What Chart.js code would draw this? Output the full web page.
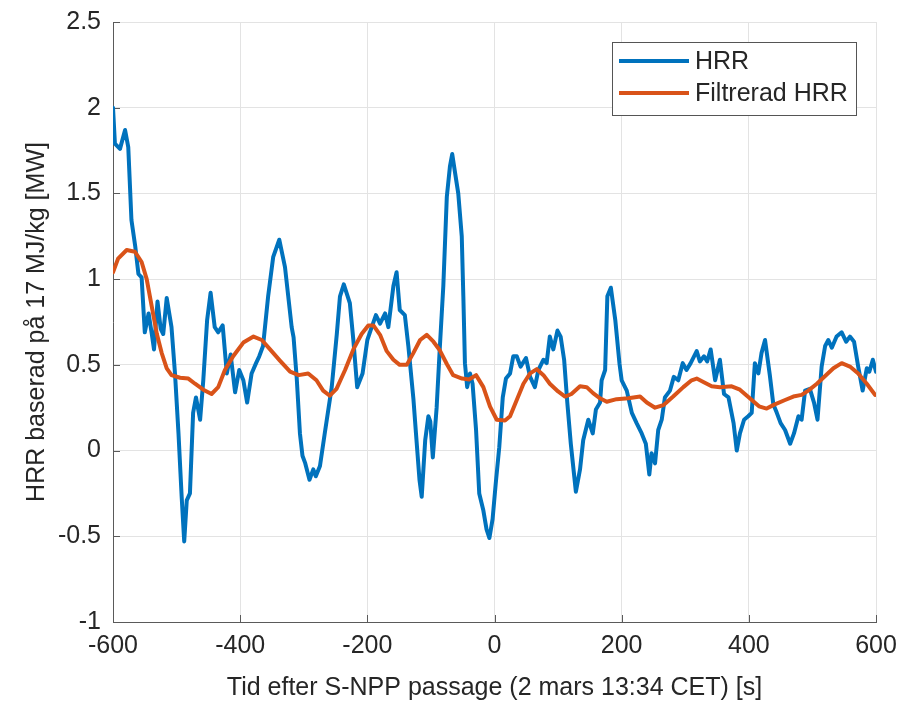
<!DOCTYPE html>
<html>
<head>
<meta charset="utf-8">
<script src="https://cdn.jsdelivr.net/npm/chart.js@4/dist/chart.umd.min.js"></script>
<style>
  body { margin: 0; background: #fff; }
  canvas { display: block; }
</style>
</head>
<body>
<canvas id="hrrChart" width="903" height="707"></canvas>
<script>
// HRR (blå)
const hrrTime = [-600, -597, -589, -581, -576, -571, -565, -560, -555, -550, -544, -539, -535.5, -530, -525, -521, -515.5, -508, -502.5, -497, -492, -488, -484, -479, -474, -469.5, -463, -458, -452, -446.5, -440, -434.5, -427.5, -421, -415, -408, -401.5, -395, -389, -382, -375, -370, -364, -356, -348, -338.5, -329.5, -319, -316, -311, -306, -302, -298, -291, -285, -281, -274.5, -267, -256, -248, -243, -237, -227.5, -222, -216, -207.5, -200, -195, -186.5, -180, -172, -167, -159, -154, -149, -141, -135.5, -127.5, -123.5, -118, -114.5, -109, -104, -101, -97, -91, -86, -80.5, -75, -70, -66.5, -62, -57, -51.5, -49, -46.5, -43, -38.5, -34.5, -29, -24, -17.5, -12.5, -8, -3, 2, 7.5, 13, 18, 24.5, 29.5, 35, 41, 49.5, 56, 63.5, 69, 77, 82, 87, 92.5, 99, 104, 109.5, 114.5, 120, 128, 134.5, 139.5, 147.5, 154.5, 159.5, 166, 168.5, 174, 177.5, 183, 190, 196.5, 200, 208, 216, 223.5, 231.5, 238, 243.5, 247, 252.5, 257.5, 263, 268, 276, 282, 289, 296, 302, 308.5, 318, 323, 329.5, 334.5, 340, 347, 354.5, 361, 368, 376, 381, 386, 392.5, 399, 404.5, 409.5, 415, 420, 425.5, 433, 438.5, 444, 450, 457, 465, 471, 478, 483, 488.5, 496, 502.5, 508, 514.5, 520, 525, 530.5, 538, 546, 553, 559, 565.5, 572, 579, 585.5, 589.5, 595, 600];
const hrrValues = [2.0, 1.79, 1.76, 1.87, 1.77, 1.345, 1.19, 1.03, 1.01, 0.69, 0.80, 0.68, 0.59, 0.87, 0.71, 0.68, 0.89, 0.72, 0.45, 0.10, -0.27, -0.53, -0.29, -0.25, 0.22, 0.31, 0.18, 0.41, 0.76, 0.92, 0.72, 0.69, 0.73, 0.45, 0.56, 0.34, 0.47, 0.41, 0.28, 0.45, 0.51, 0.55, 0.61, 0.90, 1.13, 1.23, 1.07, 0.72, 0.66, 0.42, 0.10, -0.03, -0.07, -0.17, -0.11, -0.15, -0.09, 0.10, 0.37, 0.68, 0.90, 0.97, 0.86, 0.645, 0.37, 0.45, 0.645, 0.70, 0.79, 0.74, 0.80, 0.72, 0.96, 1.04, 0.82, 0.79, 0.61, 0.30, 0.10, -0.17, -0.27, 0.06, 0.20, 0.17, -0.04, 0.25, 0.60, 0.96, 1.48, 1.66, 1.73, 1.62, 1.50, 1.25, 0.90, 0.51, 0.37, 0.45, 0.39, 0.12, -0.25, -0.35, -0.46, -0.51, -0.40, -0.19, 0.02, 0.31, 0.42, 0.45, 0.55, 0.55, 0.49, 0.54, 0.43, 0.37, 0.47, 0.53, 0.51, 0.665, 0.59, 0.70, 0.665, 0.53, 0.28, 0.04, -0.24, -0.11, 0.06, 0.18, 0.10, 0.24, 0.28, 0.41, 0.47, 0.90, 0.95, 0.76, 0.51, 0.41, 0.35, 0.22, 0.16, 0.10, 0.04, -0.14, -0.015, -0.075, 0.12, 0.18, 0.31, 0.35, 0.43, 0.41, 0.51, 0.47, 0.51, 0.58, 0.52, 0.55, 0.52, 0.59, 0.41, 0.53, 0.33, 0.31, 0.16, 0.0, 0.10, 0.18, 0.20, 0.22, 0.51, 0.45, 0.57, 0.645, 0.44, 0.27, 0.22, 0.16, 0.12, 0.04, 0.10, 0.20, 0.18, 0.35, 0.36, 0.28, 0.18, 0.49, 0.61, 0.645, 0.60, 0.665, 0.69, 0.635, 0.665, 0.635, 0.49, 0.35, 0.48, 0.46, 0.53, 0.46];

// Filtrerad HRR (orange)
const filtTime = [-600, -592, -578.5, -565.5, -555, -547, -539, -531, -523.5, -515.5, -508, -494.5, -481.5, -471, -458, -445, -434.5, -424, -411, -395, -379, -366, -353, -337.5, -321.5, -308, -293, -280, -269.5, -259, -248.5, -235, -222, -209, -198.5, -190.5, -180, -169.5, -159, -149, -138, -127.5, -117, -106.5, -96, -86, -75, -65, -51, -40, -29, -17.5, -7, 3.5, 16.5, 24.5, 35, 45.5, 56, 66.5, 77, 87, 100, 111, 121, 134.5, 145, 155, 166, 176.5, 192, 210.5, 229, 239.5, 252.5, 265.5, 281, 297, 310, 318, 328.5, 341.5, 354.5, 373, 386, 401.5, 416, 428, 440, 457, 470, 483, 493.5, 507, 520, 533, 546, 559, 572, 585.5, 598.5];
const filtValues = [1.04, 1.12, 1.17, 1.16, 1.10, 1.0, 0.84, 0.68, 0.57, 0.48, 0.44, 0.425, 0.42, 0.39, 0.355, 0.33, 0.37, 0.47, 0.55, 0.63, 0.665, 0.645, 0.59, 0.525, 0.46, 0.44, 0.45, 0.41, 0.35, 0.32, 0.36, 0.47, 0.59, 0.68, 0.73, 0.73, 0.675, 0.58, 0.53, 0.50, 0.50, 0.57, 0.645, 0.675, 0.635, 0.585, 0.505, 0.44, 0.42, 0.415, 0.44, 0.37, 0.256, 0.18, 0.175, 0.20, 0.295, 0.39, 0.45, 0.475, 0.44, 0.39, 0.345, 0.315, 0.33, 0.375, 0.37, 0.335, 0.305, 0.285, 0.30, 0.305, 0.315, 0.28, 0.25, 0.265, 0.315, 0.37, 0.41, 0.42, 0.40, 0.375, 0.37, 0.375, 0.355, 0.305, 0.258, 0.245, 0.268, 0.295, 0.315, 0.325, 0.35, 0.39, 0.435, 0.48, 0.51, 0.49, 0.45, 0.39, 0.325];

const xTicks = [-600, -400, -200, 0, 200, 400, 600];
const yTicks = [2.5, 2, 1.5, 1, 0.5, 0, -0.5, -1];
const yTickLabels = ['2.5', '2', '1.5', '1', '0.5', '0', '-0.5', '-1'];
const seriesNames = ['HRR', 'Filtrerad HRR'];

const blue = '#0072BD';
const orange = '#D95319';
const textColor = '#262626';
const fontFamily = '"Liberation Sans", Arial, sans-serif';

const hrrPoints = hrrTime.map((t, i) => ({ x: t, y: hrrValues[i] }));
const filtPoints = filtTime.map((t, i) => ({ x: t, y: filtValues[i] }));

// inåtriktade tickmarkeringar (som i MATLAB)
const innerTicks = {
    id: 'innerTicks',
    beforeDatasetsDraw(chart) {
        const { ctx, chartArea, scales } = chart;
        ctx.save();
        ctx.strokeStyle = '#5a5a5a';
        ctx.lineWidth = 1;
        ctx.beginPath();
        xTicks.forEach(v => {
            const px = Math.round(scales.x.getPixelForValue(v)) + 0.5;
            ctx.moveTo(px, chartArea.bottom);
            ctx.lineTo(px, chartArea.bottom - 7);
        });
        yTicks.forEach(v => {
            const py = Math.round(scales.y.getPixelForValue(v)) + 0.5;
            ctx.moveTo(chartArea.left, py);
            ctx.lineTo(chartArea.left + 7, py);
        });
        ctx.stroke();
        ctx.restore();
    }
};

// legend-ruta uppe till höger
const boxLegend = {
    id: 'boxLegend',
    afterDatasetsDraw(chart) {
        const { ctx, chartArea } = chart;
        const right = chartArea.right - 20;
        const left = right - 244;
        const top = chartArea.top + 20;
        const h = 73;
        ctx.save();
        ctx.fillStyle = '#fff';
        ctx.fillRect(left, top, right - left, h);
        ctx.strokeStyle = '#555';
        ctx.lineWidth = 1;
        ctx.strokeRect(left + 0.5, top + 0.5, right - left, h);
        const colors = [blue, orange];
        ctx.font = '25px ' + fontFamily;
        ctx.textBaseline = 'middle';
        ctx.fillStyle = textColor;
        seriesNames.forEach((name, i) => {
            const y = top + 19 + i * 32;
            ctx.strokeStyle = colors[i];
            ctx.lineWidth = 4;
            ctx.beginPath();
            ctx.moveTo(left + 7, y);
            ctx.lineTo(left + 77, y);
            ctx.stroke();
            ctx.fillText(name, left + 83, y + 1);
        });
        ctx.restore();
    }
};

const ctx = document.getElementById('hrrChart').getContext('2d');
new Chart(ctx, {
    type: 'line',
    data: {
        datasets: [{
            label: seriesNames[0],
            data: hrrPoints,
            borderColor: blue,
            borderWidth: 4,
            pointRadius: 0,
            tension: 0,
            borderJoinStyle: 'round',
            borderCapStyle: 'round',
            order: 1
        }, {
            label: seriesNames[1],
            data: filtPoints,
            borderColor: orange,
            borderWidth: 4,
            pointRadius: 0,
            tension: 0,
            borderJoinStyle: 'round',
            borderCapStyle: 'round',
            order: 0
        }]
    },
    options: {
        responsive: false,
        animation: false,
        layout: { padding: { left: 0, right: 27, top: 22, bottom: 0 } },
        plugins: {
            legend: { display: false },
            tooltip: { enabled: false }
        },
        scales: {
            x: {
                type: 'linear',
                min: -600,
                max: 600,
                afterBuildTicks: s => { s.ticks = xTicks.map(v => ({ value: v })); },
                afterFit: s => { s.height = 85; s.paddingLeft = 0; s.paddingRight = 0; },
                grid: { color: '#e3e3e3', drawTicks: false },
                border: { color: '#5a5a5a', width: 1 },
                ticks: {
                    padding: 9,
                    color: textColor,
                    font: { size: 25, family: fontFamily },
                    maxRotation: 0,
                    callback: v => String(v)
                },
                title: {
                    display: true,
                    text: 'Tid efter S-NPP passage (2 mars 13:34 CET) [s]',
                    color: textColor,
                    font: { size: 25, family: fontFamily },
                    padding: { top: 0, bottom: 4 }
                }
            },
            y: {
                min: -1,
                max: 2.5,
                afterBuildTicks: s => { s.ticks = yTicks.map(v => ({ value: v })); },
                afterFit: s => { s.width = 113; s.paddingTop = 0; s.paddingBottom = 0; },
                grid: { color: '#e3e3e3', drawTicks: false },
                border: { color: '#5a5a5a', width: 1 },
                ticks: {
                    padding: 12,
                    color: textColor,
                    font: { size: 25, family: fontFamily },
                    callback: v => yTickLabels[yTicks.indexOf(v)]
                },
                title: {
                    display: true,
                    text: 'HRR baserad på 17 MJ/kg [MW]',
                    color: textColor,
                    font: { size: 25, family: fontFamily },
                    padding: { top: 22, bottom: 0 }
                }
            }
        }
    },
    plugins: [innerTicks, boxLegend]
});
</script>
</body>
</html>
